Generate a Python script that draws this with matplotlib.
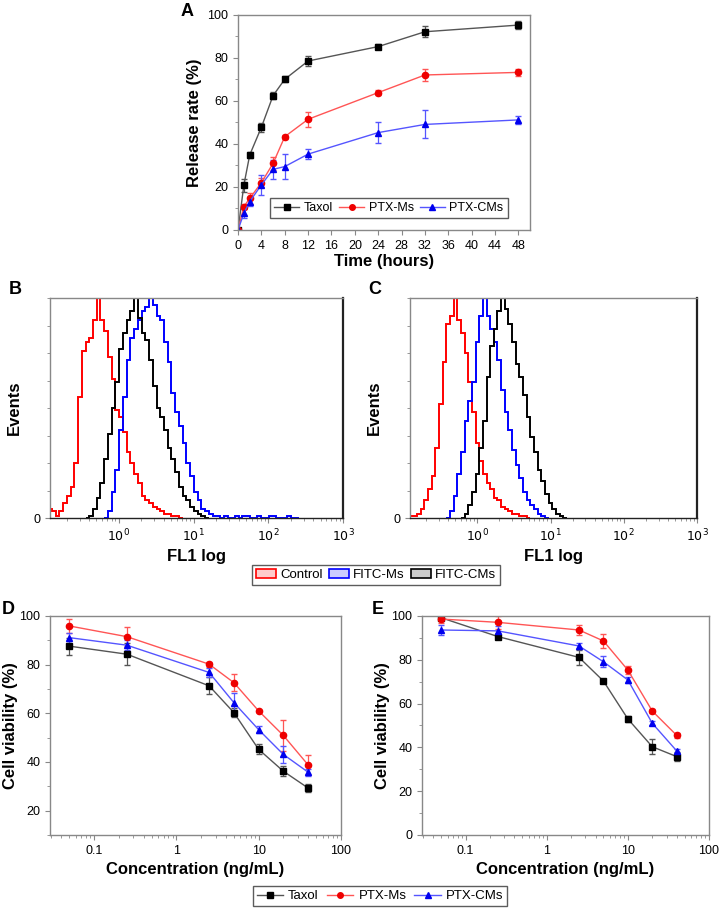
import numpy as np
import matplotlib
matplotlib.use("Agg")
import matplotlib.pyplot as plt
from matplotlib.patches import Patch
from matplotlib.lines import Line2D
from matplotlib.ticker import LogLocator, MultipleLocator, NullFormatter, FixedLocator

plt.rcParams['font.family'] = ['Liberation Sans', 'DejaVu Sans']

# ---------------- Panel A data ----------------
time_h = [0, 1, 2, 4, 6, 8, 12, 24, 32, 48]
taxol_rel = [0, 20.9, 34.9, 47.8, 62.5, 70.1, 78.6, 85.3, 92.2, 95.3]
taxol_rel_err = [0, 3, 1.5, 2, 1.5, 1.5, 2.5, 1, 2.5, 2]
ms_rel = [0, 10.9, 14.7, 22.0, 31.0, 43.4, 51.5, 63.9, 72.1, 73.3]
ms_rel_err = [0, 1, 2.5, 2, 3, 1, 3.5, 1, 3, 1.5]
cms_rel = [0, 7.8, 13.2, 21.0, 28.2, 29.5, 35.3, 45.3, 49.1, 51.2]
cms_rel_err = [0, 2, 2, 4.5, 4.5, 6, 2.5, 5, 6.5, 2]

# ---------------- Panels B, C data (FL1 histograms, log10 bins of 0.05) ----------------
fl1_bin_step = 0.05
b_control_start = -0.92
b_control = [4, 3, 1, 3, 7, 10, 14, 25, 55, 76, 80, 82, 90, 100, 90, 85, 73, 63, 49, 46,
             39, 30, 25, 20, 16, 10, 8, 7, 5, 4, 3, 2, 2, 1, 1, 0]
b_cms_start = -0.42
b_cms = [0, 1, 4, 9, 16, 27, 38, 50, 62, 77, 84, 90, 94, 100, 91, 84, 81, 72, 60, 50,
         46, 40, 32, 27, 21, 14, 10, 8, 5, 3, 2, 1, 0]
b_ms_start = -0.17
b_ms = [0, 3, 12, 22, 40, 55, 72, 82, 86, 90, 94, 96, 100, 97, 92, 90, 80, 71, 57, 48,
        42, 34, 25, 19, 12, 8, 4, 3, 2, 1, 1, 0, 1, 0, 0, 1, 0, 1, 1, 0, 0, 1, 0, 0, 1,
        1, 0, 0, 0, 1, 0, 0]

c_control_start = -0.95
c_control = [3, 1, 1, 2, 4, 8, 13, 19, 32, 52, 71, 88, 92, 100, 90, 84, 75, 62, 48, 34,
             26, 20, 16, 13, 9, 8, 5, 4, 3, 2, 2, 1, 1, 0]
c_ms_start = -0.40
c_ms = [0, 3, 10, 20, 30, 44, 53, 62, 80, 92, 100, 92, 86, 80, 72, 58, 48, 40, 31, 24,
        18, 12, 8, 6, 4, 2, 1, 0]
c_cms_start = -0.20
c_cms = [0, 2, 6, 12, 20, 32, 44, 64, 78, 86, 94, 100, 95, 88, 80, 70, 64, 56, 46, 37,
         30, 22, 17, 11, 7, 4, 2, 1, 0]

# ---------------- Panels D, E data ----------------
conc = [0.05, 0.25, 2.5, 5, 10, 20, 40]
d_taxol = [87.6, 84.3, 71.3, 60.3, 45.2, 36.2, 29.3]
d_taxol_err = [3.5, 4.5, 3.5, 2, 2, 2, 1.5]
d_ms = [95.9, 91.5, 80.2, 72.6, 61.0, 50.9, 38.8]
d_ms_err = [3, 4, 1, 3.5, 0.5, 6.5, 4]
d_cms = [91.1, 88.0, 76.8, 64.4, 53.3, 43.1, 35.8]
d_cms_err = [2, 2, 2, 4, 1.5, 3.5, 1.5]

e_taxol = [99.2, 90.6, 81.1, 70.3, 53.0, 40.3, 35.8]
e_taxol_err = [1, 1, 3.5, 0.5, 1.5, 3.5, 2]
e_ms = [98.6, 97.1, 93.6, 88.6, 75.3, 56.6, 45.5]
e_ms_err = [2, 3, 2.5, 3, 2, 1, 1]
e_cms = [93.6, 93.2, 86.3, 79.1, 70.8, 51.0, 38.4]
e_cms_err = [2.5, 2, 1.5, 2.5, 1.5, 1, 1]

series_names = ['Taxol', 'PTX-Ms', 'PTX-CMs']
facs_names = ['Control', 'FITC-Ms', 'FITC-CMs']

# styles
line_cols = ['#555555', '#ff5555', '#5555ff']
mark_cols = ['#000000', '#ee0000', '#0000ee']
markers = ['s', 'o', '^']
spine_col = '#888888'
TICK_FS = 9
LAB_FS = 12

fig = plt.figure(figsize=(7.2, 9.08), dpi=100)


def style_axes(ax):
    for s in ax.spines.values():
        s.set_color(spine_col)
        s.set_linewidth(1.0)
    ax.tick_params(which='both', direction='out', color=spine_col, labelsize=TICK_FS)
    ax.tick_params(which='major', length=3.5)
    ax.tick_params(which='minor', length=2)


def plot_series(ax, x, ys, errs):
    for y, e, lc, mc, m in zip(ys, errs, line_cols, mark_cols, markers):
        ax.errorbar(x, y, yerr=e, color=lc, lw=1.0, marker=m, ms=4.5,
                    mfc=mc, mec=mc, ecolor=lc, elinewidth=0.9, capsize=2)


# ---- Panel A ----
axA = fig.add_axes([0.3306, 0.7467, 0.4056, 0.2368])
plot_series(axA, time_h, [taxol_rel, ms_rel, cms_rel],
            [taxol_rel_err, ms_rel_err, cms_rel_err])
axA.set_xlim(0, 50)
axA.set_ylim(0, 100)
axA.xaxis.set_major_locator(FixedLocator(list(range(0, 49, 4))))
axA.yaxis.set_major_locator(MultipleLocator(20))
axA.yaxis.set_minor_locator(MultipleLocator(10))
style_axes(axA)
axA.set_xlabel('Time (hours)', fontsize=LAB_FS, fontweight='bold', labelpad=2)
axA.set_ylabel('Release rate (%)', fontsize=LAB_FS, fontweight='bold', labelpad=4)
handles = [Line2D([], [], color=lc, marker=m, mfc=mc, mec=mc, ms=4, lw=1)
           for lc, mc, m in zip(line_cols, mark_cols, markers)]
legA = axA.legend(handles, series_names, loc='lower right', bbox_to_anchor=(0.945, 0.025),
                  ncol=3, fontsize=9, frameon=True, fancybox=False, edgecolor='#333333',
                  handlelength=2.0, columnspacing=0.5, handletextpad=0.35, borderpad=0.35)
legA.get_frame().set_linewidth(1.0)
fig.text(187 / 720, 1 - 12 / 908, 'A', fontsize=13, fontweight='bold', ha='center', va='center')

# ---- Panels B, C ----
facs_cols = ['#ff0000', '#0000ff', '#000000']


def plot_hist(ax, starts, counts, cols):
    for st, cnt, col in zip(starts, counts, cols):
        edges = 10 ** (st + fl1_bin_step * (np.arange(len(cnt) + 1) - 0.5))
        ax.stairs(cnt, edges, color=col, lw=1.4, baseline=None)
    ax.set_xscale('log')
    ax.set_xlim(0.12, 1000)
    ax.set_ylim(0, 100)
    ax.xaxis.set_major_locator(FixedLocator([1, 10, 100, 1000]))
    ax.xaxis.set_minor_locator(LogLocator(base=10, subs=np.arange(2, 10)))
    ax.xaxis.set_minor_formatter(NullFormatter())
    ax.set_xticklabels([r'$10^0$', r'$10^1$', r'$10^2$', r'$10^3$'])
    ax.yaxis.set_major_locator(FixedLocator([0]))
    ax.yaxis.set_minor_locator(MultipleLocator(12.5))
    style_axes(ax)
    ax.spines['bottom'].set_color('#222222')
    ax.spines['right'].set_color('#222222')
    ax.spines['right'].set_linewidth(1.6)
    ax.set_xlabel('FL1 log', fontsize=LAB_FS, fontweight='bold', labelpad=3)
    ax.set_ylabel('Events', fontsize=LAB_FS, fontweight='bold', labelpad=8)


axB = fig.add_axes([0.0694, 0.4295, 0.407, 0.2423])
plot_hist(axB, [b_control_start, b_ms_start, b_cms_start], [b_control, b_ms, b_cms], facs_cols)
axC = fig.add_axes([0.5694, 0.4295, 0.3986, 0.2423])
plot_hist(axC, [c_control_start, c_ms_start, c_cms_start], [c_control, c_ms, c_cms], facs_cols)
fig.text(15 / 720, 1 - 290 / 908, 'B', fontsize=13, fontweight='bold', ha='center', va='center')
fig.text(375 / 720, 1 - 290 / 908, 'C', fontsize=13, fontweight='bold', ha='center', va='center')

facs_face = ['#ffcccc', '#ccccff', '#cccccc']
facs_handles = [Patch(facecolor=fc, edgecolor=ec, lw=1.2) for fc, ec in zip(facs_face, facs_cols)]
legM = fig.legend(facs_handles, facs_names, loc='center', bbox_to_anchor=(376 / 720, 1 - 575 / 908),
                  ncol=3, fontsize=9.5, frameon=True, fancybox=False, edgecolor='#333333',
                  handlelength=1.5, handleheight=0.7, columnspacing=0.5, handletextpad=0.3,
                  borderpad=0.3)
legM.get_frame().set_linewidth(1.0)

# ---- Panels D, E ----


def style_conc(ax, ymin):
    ax.set_xscale('log')
    ax.set_xlim(0.029, 100)
    ax.set_ylim(ymin, 100)
    ax.xaxis.set_major_locator(FixedLocator([0.1, 1, 10, 100]))
    ax.xaxis.set_minor_locator(LogLocator(base=10, subs=np.arange(2, 10)))
    ax.xaxis.set_minor_formatter(NullFormatter())
    ax.set_xticklabels(['0.1', '1', '10', '100'])
    ax.yaxis.set_major_locator(FixedLocator([0, 20, 40, 60, 80, 100]))
    ax.yaxis.set_minor_locator(MultipleLocator(10))
    style_axes(ax)
    ax.set_xlabel('Concentration (ng/mL)', fontsize=LAB_FS, fontweight='bold', labelpad=4)
    ax.set_ylabel('Cell viability (%)', fontsize=LAB_FS, fontweight='bold', labelpad=1)


axD = fig.add_axes([0.0694, 0.0804, 0.404, 0.2412])
plot_series(axD, conc, [d_taxol, d_ms, d_cms], [d_taxol_err, d_ms_err, d_cms_err])
style_conc(axD, 10)
axE = fig.add_axes([0.5861, 0.0804, 0.3986, 0.2412])
plot_series(axE, conc, [e_taxol, e_ms, e_cms], [e_taxol_err, e_ms_err, e_cms_err])
style_conc(axE, 0)
fig.text(8 / 720, 1 - 610 / 908, 'D', fontsize=13, fontweight='bold', ha='center', va='center')
fig.text(378 / 720, 1 - 610 / 908, 'E', fontsize=13, fontweight='bold', ha='center', va='center')

legB = fig.legend(handles, series_names, loc='center', bbox_to_anchor=(380 / 720, 1 - 896 / 908),
                  ncol=3, fontsize=9.5, frameon=True, fancybox=False, edgecolor='#333333',
                  handlelength=2.0, columnspacing=0.6, handletextpad=0.4, borderpad=0.3)
legB.get_frame().set_linewidth(1.0)

fig.savefig('out.png', dpi=100)
